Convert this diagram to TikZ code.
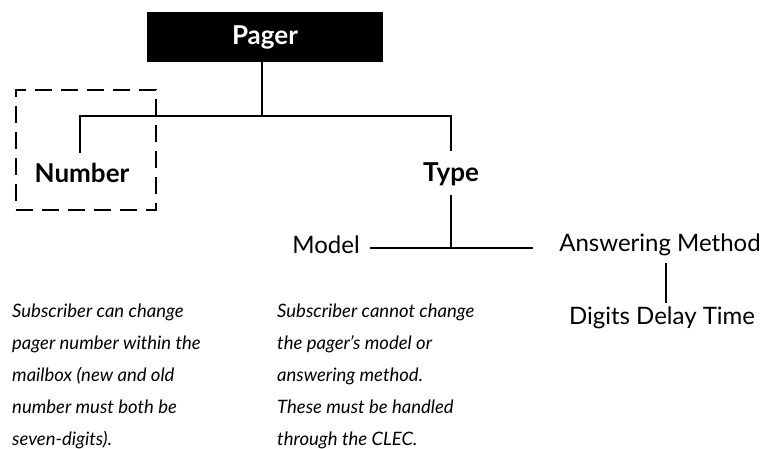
\documentclass[tikz,border=0pt]{standalone}
\usepackage{fontspec}
\setmainfont{Lato}
\begin{document}
\begin{tikzpicture}[x=1pt,y=-1pt,
  conn/.style={line width=1.5pt},
  boldlabel/.style={font=\fontsize{26}{30}\selectfont\bfseries, inner sep=0pt},
  leaf/.style={font=\fontsize{24}{28}\selectfont, inner sep=0pt},
  note/.style={font=\fontsize{18.5}{32}\selectfont\itshape, align=left, anchor=north west, inner sep=0pt}]
\useasboundingbox (0,0) rectangle (764,449);
% root
\node[fill=black, minimum width=236pt, minimum height=50pt, inner sep=0pt,
      text=white, font=\fontsize{26}{30}\selectfont\bfseries] (pager) at (265,37) {Pager};
% dashed frame
\node[draw, dashed, line width=1.5pt, dash pattern=on 17pt off 9pt,
      minimum width=140pt, minimum height=120pt, inner sep=0pt] (frame) at (86,150) {};
\node[boldlabel] (number) at (82,173) {Number};
\node[boldlabel] (type) at (451,174) {Type};
\node[leaf] (model) at (326,245) {Model};
\node[leaf] (answer) at (660,245) {Answering Method};
\node[leaf] (digits) at (662,318) {Digits Delay Time};
% junctions
\coordinate (bus) at (262,116);
\coordinate (busL) at (80,116);
\coordinate (busR) at (451,116);
\coordinate (numtop) at (80,153);
\coordinate (typetop) at (451,151);
\coordinate (typebot) at (451,195);
\coordinate (tj) at (451,248);
\coordinate (mR) at (370,248);
\coordinate (aL) at (533,248);
\coordinate (ansbot) at (666,263);
\coordinate (digtop) at (666,303);
% connectors
\draw[conn] (pager.south -| bus) -- (bus);
\draw[conn] (numtop) -- (busL) -- (busR) -- (typetop);
\draw[conn] (typebot) -- (tj);
\draw[conn] (mR) -- (aL);
\draw[conn] (ansbot) -- (digtop);
% notes
\node[note] (noteL) at (12,304) {Subscriber can change\\pager number within the\\mailbox (new and old\\number must both be\\seven-digits).};
\node[note] (noteR) at (277,304) {Subscriber cannot change\\the pager's model or\\answering method.\\These must be handled\\through the CLEC.};
\end{tikzpicture}
\end{document}
